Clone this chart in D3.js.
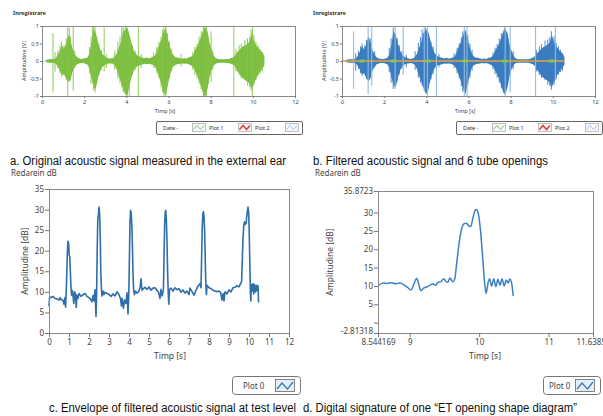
<!DOCTYPE html>
<html><head><meta charset="utf-8">
<script src="https://cdn.jsdelivr.net/npm/d3@7"></script>
<style>
body{margin:0;background:#fff;}
svg{display:block;}
.ax text{font-family:"Noto Sans","DejaVu Sans",sans-serif;fill:#444;}
.ax line{stroke:#777;}
.ax path{display:none;}
</style></head>
<body><svg id="c" width="603" height="416"></svg>
<script>
// ---------- DATA ----------
// Panels a & b: signal extent per 0.1 s bin (0.0 .. 10.5 s)
const binTimes = d3.range(0, 10.55, 0.1);
const aUpper = [0.01,0.01,0.04,0.05,0.06,0.05,0.08,0.18,0.30,0.45,0.35,0.50,0.75,0.60,0.35,0.20,0.12,0.08,0.06,0.07,0.08,0.10,0.20,0.55,0.90,0.80,0.55,0.35,0.20,0.15,0.10,0.08,0.07,0.08,0.12,0.22,0.40,0.55,0.85,0.90,0.95,0.75,0.50,0.30,0.20,0.15,0.12,0.10,0.08,0.10,0.08,0.09,0.12,0.15,0.30,0.45,0.60,0.80,0.95,0.70,0.45,0.25,0.15,0.10,0.10,0.08,0.07,0.08,0.07,0.10,0.12,0.15,0.30,0.40,0.55,0.70,0.90,0.95,0.85,0.50,0.30,0.15,0.08,0.06,0.05,0.05,0.05,0.06,0.06,0.08,0.10,0.15,0.25,0.30,0.38,0.42,0.45,0.50,0.55,0.80,0.60,0.45,0.38,0.30,0.25,0.15];
const aLower = [-0.01,-0.01,-0.04,-0.05,-0.05,-0.06,-0.08,-0.15,-0.28,-0.40,-0.38,-0.50,-0.60,-0.55,-0.30,-0.18,-0.10,-0.07,-0.06,-0.06,-0.08,-0.10,-0.22,-0.50,-0.75,-0.80,-0.50,-0.30,-0.18,-0.12,-0.09,-0.07,-0.07,-0.08,-0.12,-0.25,-0.45,-0.60,-0.80,-0.95,-1.00,-0.70,-0.45,-0.28,-0.18,-0.14,-0.12,-0.10,-0.08,-0.09,-0.08,-0.09,-0.11,-0.15,-0.28,-0.45,-0.65,-0.85,-1.00,-0.75,-0.45,-0.22,-0.14,-0.10,-0.09,-0.08,-0.07,-0.08,-0.07,-0.09,-0.12,-0.15,-0.28,-0.40,-0.55,-0.75,-0.95,-1.00,-0.80,-0.45,-0.25,-0.12,-0.07,-0.06,-0.05,-0.05,-0.05,-0.06,-0.06,-0.08,-0.10,-0.15,-0.28,-0.35,-0.45,-0.50,-0.55,-0.60,-0.65,-0.80,-0.65,-0.50,-0.40,-0.30,-0.22,-0.12];
// isolated peaks [time, top, bottom]
const aSpikes = [[0.52,0.80,-0.90],[1.22,1,-1],[1.30,0.95,-0.50],[1.48,1,-0.85],[2.40,1,-0.60],[2.52,1,-0.90],[2.95,0.95,-0.30],[3.85,1,-0.90],[4.02,1,-1],[4.14,0.70,-1],[4.57,1,-1],[5.78,1,-1],[5.88,1,-1],[7.66,1,-1],[7.80,1,-1],[8.02,0.85,-0.60],[9.10,1,-1],[9.98,1,-1],
  [0.62,0.25,-0.30],[0.75,0.30,-0.20],[0.85,0.45,-0.35],[0.92,0.55,-0.45],[1.05,0.45,-0.40],[1.15,0.65,-0.55],[1.35,0.70,-0.45],[1.55,0.30,-0.20],
  [2.25,0.40,-0.35],[2.33,0.70,-0.65],[2.45,1,-0.85],[2.60,0.70,-0.60],[2.70,0.50,-0.40],[2.82,0.30,-0.25],[3.05,0.20,-0.20],
  [3.45,0.30,-0.25],[3.60,0.55,-0.50],[3.70,0.70,-0.65],[3.78,0.95,-0.75],[3.95,1,-0.95],[4.08,0.85,-0.80],[4.20,0.60,-0.55],[4.30,0.45,-0.40],[4.42,0.30,-0.25],[4.70,0.20,-0.20],
  [5.30,0.25,-0.20],[5.45,0.40,-0.35],[5.55,0.55,-0.50],[5.65,0.70,-0.75],[5.72,0.90,-0.90],[5.95,0.80,-0.70],[6.05,0.55,-0.50],[6.15,0.35,-0.30],[6.60,0.20,-0.15],
  [7.15,0.25,-0.25],[7.25,0.40,-0.40],[7.35,0.50,-0.50],[7.45,0.70,-0.65],[7.55,0.85,-0.80],[7.72,1,-1],[7.88,0.70,-0.65],[7.95,0.45,-0.40],[8.10,0.30,-0.25],
  [9.20,0.35,-0.30],[9.35,0.45,-0.40],[9.45,0.50,-0.50],[9.62,0.60,-0.55],[9.75,0.65,-0.70],[9.85,0.70,-0.75],[9.92,0.90,-0.85],[10.05,0.75,-0.70],[10.15,0.55,-0.55],[10.25,0.45,-0.40],[10.35,0.35,-0.35],[10.45,0.25,-0.30]];
const bUpper = [0.01,0.01,0.04,0.05,0.05,0.05,0.07,0.15,0.28,0.42,0.33,0.48,0.70,0.55,0.30,0.18,0.10,0.07,0.06,0.06,0.07,0.09,0.18,0.50,0.85,0.75,0.50,0.30,0.18,0.13,0.09,0.07,0.06,0.07,0.10,0.20,0.38,0.50,0.80,0.85,0.90,0.70,0.45,0.28,0.18,0.13,0.11,0.09,0.07,0.09,0.07,0.08,0.10,0.13,0.28,0.42,0.55,0.75,0.90,0.65,0.40,0.22,0.13,0.09,0.09,0.07,0.06,0.07,0.06,0.09,0.10,0.14,0.28,0.38,0.50,0.65,0.85,0.90,0.80,0.45,0.28,0.13,0.07,0.05,0.05,0.05,0.05,0.05,0.05,0.07,0.09,0.14,0.22,0.28,0.35,0.40,0.42,0.48,0.52,0.75,0.55,0.42,0.35,0.28,0.22,0.12];
const bLower = [-0.01,-0.01,-0.04,-0.05,-0.05,-0.05,-0.07,-0.14,-0.26,-0.38,-0.35,-0.48,-0.58,-0.50,-0.28,-0.16,-0.09,-0.07,-0.06,-0.06,-0.07,-0.09,-0.20,-0.48,-0.70,-0.75,-0.48,-0.28,-0.16,-0.11,-0.08,-0.07,-0.06,-0.07,-0.11,-0.22,-0.42,-0.55,-0.75,-0.90,-0.95,-0.65,-0.42,-0.26,-0.16,-0.12,-0.11,-0.09,-0.07,-0.08,-0.07,-0.08,-0.10,-0.14,-0.26,-0.42,-0.60,-0.80,-0.95,-0.70,-0.42,-0.20,-0.12,-0.09,-0.08,-0.07,-0.06,-0.07,-0.06,-0.08,-0.11,-0.14,-0.26,-0.38,-0.50,-0.70,-0.90,-0.95,-0.75,-0.42,-0.22,-0.11,-0.06,-0.05,-0.05,-0.05,-0.05,-0.05,-0.05,-0.07,-0.09,-0.14,-0.26,-0.33,-0.42,-0.48,-0.52,-0.56,-0.62,-0.75,-0.60,-0.45,-0.36,-0.28,-0.20,-0.11];
const bSpikes = [[0.55,0.85,-0.80],[1.24,1,-0.95],[1.41,1,-0.70],[2.52,1,-0.80],[2.90,1,-0.40],[3.90,1,-0.85],[4.05,1,-1],[4.48,1,-1],[5.80,1,-1],[5.93,1,-1],[7.74,1,-1],[7.98,1,-0.90],[9.18,1,-1],[10.12,1,-0.55]];
const bTexture = [[0.65,0.22,-0.28],[0.78,0.30,-0.22],[0.88,0.42,-0.35],[0.95,0.50,-0.42],[1.08,0.45,-0.38],[1.16,0.60,-0.52],[1.33,0.65,-0.42],[1.55,0.28,-0.18],
  [2.24,0.38,-0.32],[2.33,0.65,-0.62],[2.43,0.95,-0.80],[2.62,0.65,-0.58],[2.72,0.45,-0.38],[2.84,0.28,-0.22],[3.05,0.18,-0.18],
  [3.47,0.28,-0.25],[3.62,0.52,-0.48],[3.72,0.68,-0.62],[3.80,0.90,-0.72],[3.97,0.95,-0.92],[4.10,0.80,-0.78],[4.22,0.55,-0.52],[4.32,0.42,-0.38],[4.60,0.20,-0.18],
  [5.32,0.22,-0.20],[5.46,0.38,-0.35],[5.56,0.52,-0.50],[5.66,0.68,-0.72],[5.73,0.85,-0.88],[5.97,0.75,-0.68],[6.07,0.50,-0.48],[6.17,0.32,-0.28],
  [7.16,0.24,-0.24],[7.26,0.38,-0.38],[7.36,0.48,-0.48],[7.46,0.65,-0.62],[7.56,0.80,-0.78],[7.70,0.95,-0.95],[7.86,0.68,-0.62],[7.94,0.42,-0.38],[8.12,0.28,-0.24],
  [9.22,0.32,-0.30],[9.36,0.42,-0.40],[9.46,0.48,-0.48],[9.63,0.58,-0.55],[9.76,0.62,-0.68],[9.86,0.68,-0.72],[9.93,0.85,-0.82],[10.06,0.70,-0.68],[10.16,0.52,-0.52],[10.26,0.42,-0.40],[10.36,0.32,-0.32],[10.46,0.22,-0.28]];
const bOpenings = [0.95, 2.45, 4.08, 5.83, 7.72, 9.95];

// Panel c: envelope (dB)
const cTime = [0.00,0.03,0.10,0.20,0.30,0.40,0.50,0.55,0.60,0.70,0.75,0.80,0.83,0.86,0.89,0.92,0.95,0.98,1.01,1.04,1.07,1.10,1.13,1.17,1.20,1.24,1.28,1.32,1.36,1.40,1.45,1.50,1.60,1.70,1.80,1.90,2.00,2.08,2.15,2.20,2.25,2.30,2.35,2.38,2.41,2.44,2.47,2.50,2.53,2.56,2.59,2.62,2.65,2.70,2.75,2.80,2.90,3.00,3.10,3.20,3.30,3.40,3.45,3.50,3.58,3.62,3.66,3.72,3.78,3.85,3.90,3.95,3.99,4.02,4.05,4.08,4.11,4.14,4.17,4.20,4.23,4.27,4.32,4.40,4.48,4.55,4.60,4.65,4.72,4.80,4.90,5.00,5.10,5.20,5.30,5.40,5.48,5.55,5.60,5.66,5.72,5.75,5.78,5.81,5.84,5.87,5.90,5.93,5.96,5.99,6.03,6.10,6.20,6.30,6.40,6.50,6.60,6.70,6.80,6.90,7.00,7.05,7.15,7.25,7.35,7.45,7.55,7.60,7.63,7.66,7.69,7.72,7.75,7.78,7.81,7.84,7.87,7.90,8.00,8.10,8.20,8.30,8.40,8.50,8.58,8.65,8.70,8.75,8.80,8.90,9.00,9.10,9.20,9.30,9.40,9.50,9.58,9.63,9.66,9.70,9.74,9.78,9.82,9.86,9.90,9.95,9.98,10.01,10.04,10.07,10.09,10.12,10.16,10.20,10.24,10.28,10.33,10.38,10.42,10.45,10.48];
const cDb = [6.5,8.8,8.6,8.9,8.4,8.3,8.0,8.6,8.2,7.9,7.0,8.6,6.3,9.8,14.5,20.0,22.3,21.8,19.0,18.5,14.5,11.0,9.2,10.3,9.0,7.2,10.0,9.5,6.2,9.2,8.4,9.6,8.9,9.3,9.6,8.9,8.6,8.2,7.6,9.1,7.8,10.5,4.0,9.5,20.0,28.0,28.5,30.6,29.0,24.0,15.0,10.8,9.0,10.2,9.3,9.9,9.6,9.4,8.9,9.5,9.0,10.0,9.7,9.3,8.3,6.6,8.4,6.0,8.0,7.2,9.8,4.6,9.5,18.0,27.0,29.8,29.2,26.5,21.5,14.5,10.5,9.3,10.2,9.7,10.0,11.0,13.2,10.4,10.8,11.1,10.6,11.2,10.4,10.9,11.0,10.4,9.8,8.4,10.6,9.0,10.5,18.0,26.0,29.4,29.8,27.2,22.0,15.0,10.0,7.0,10.6,10.9,10.2,11.0,10.5,10.8,9.9,10.5,9.7,10.2,9.3,10.9,10.1,9.2,10.4,11.4,12.0,11.0,18.0,25.5,28.8,29.5,28.2,25.0,18.5,12.0,9.3,11.6,11.0,10.8,10.4,10.2,10.0,10.2,9.8,8.0,9.6,7.8,10.0,9.5,10.5,10.0,11.0,11.1,11.5,11.2,12.0,12.5,17.0,23.0,26.2,27.0,26.4,26.8,29.0,30.6,29.5,25.0,17.0,10.0,7.8,11.8,10.2,12.0,9.5,11.8,10.0,11.6,10.3,11.5,7.4];
const cXTicks = [0,1,2,3,4,5,6,7,8,9,10,11,12];
const cYTicks = [0,5,10,15,20,25,30,35];

// Panel d: one opening (dB)
const dTime = [8.544169,8.57,8.62,8.68,8.74,8.80,8.86,8.92,8.97,9.02,9.07,9.10,9.13,9.16,9.20,9.25,9.30,9.34,9.37,9.41,9.45,9.49,9.52,9.55,9.58,9.62,9.65,9.67,9.70,9.73,9.76,9.79,9.82,9.85,9.88,9.91,9.94,9.96,9.99,10.02,10.05,10.08,10.10,10.13,10.15,10.18,10.21,10.24,10.27,10.30,10.33,10.36,10.39,10.42,10.44,10.47,10.49];
const dDb = [10.0,10.4,10.8,10.7,10.9,10.6,10.8,10.3,9.6,8.9,11.0,12.1,10.5,8.7,9.4,9.8,10.3,10.6,10.2,11.0,11.2,12.0,11.3,11.0,12.2,11.1,12.0,15.0,20.0,24.0,26.3,27.0,27.0,26.4,26.2,28.5,30.5,30.8,29.5,25.0,18.0,10.5,8.0,11.0,12.0,10.0,12.0,9.8,11.8,10.2,12.0,10.0,11.6,10.8,12.0,10.5,7.3];
const dXTicks = [8.544169,9,10,11,11.63854];
const dXLabels = ["8.544169","9","10","11","11.63854"];
const dYTicks = [35.8723,30,25,20,15,10,5,0,-2.81318];
const dYLabels = ["35.8723","30","25","20","15","10","5","","-2.81318"];

const abXTicks = [0,2,4,6,8,10,12];
const abYTicks = [1,0.5,0,-0.5,-1];
const captions = ["a. Original acoustic signal measured in the external ear","b. Filtered acoustic signal and 6 tube openings","c. Envelope of filtered acoustic signal at test level","d. Digital signature of one \u201cET opening shape diagram\u201d"];

// ---------- DRAW ----------
const svg = d3.select("#c");
const GREEN="#7bbd3f", BLUE="#3b7dc0", LBLUE="#93bde3", LINE="#2f6ea9";
const AX_FONT = 8;

function frame(x0,y0,x1,y1){
  svg.append("rect").attr("x",x0+0.5).attr("y",y0+0.5).attr("width",x1-x0).attr("height",y1-y0)
    .attr("fill","none").attr("stroke","#8a8a8a").attr("stroke-width",1);
}

function smallPanel(left, upper, lower, layers, isB){
  const x = d3.scaleLinear().domain([0,12]).range([left, left+253]);
  const y = d3.scaleLinear().domain([-1,1]).range([96,26]);
  const g = svg.append("g");
  const half = (x(0.1)-x(0))/2;
  g.append("path").datum(binTimes)
    .attr("d", d3.area().x(t=>x(t)+half).y0((t,i)=>y(lower[i])).y1((t,i)=>y(upper[i])))
    .attr("fill",layers[0].color);
  layers.forEach(L=>{
    g.append("g").selectAll("line").data(L.data).join("line")
      .attr("x1",d=>x(d[0])).attr("x2",d=>x(d[0])).attr("y1",d=>y(d[1])).attr("y2",d=>y(d[2]))
      .attr("stroke",L.stroke).attr("stroke-width",L.w);
  });
  if(isB){
    g.append("line").attr("x1",x(0)).attr("x2",x(10.55)).attr("y1",y(0)).attr("y2",y(0))
      .attr("stroke","#e6a33a").attr("stroke-width",1.6);
    g.selectAll("rect.op").data(bOpenings).join("rect")
      .attr("x",t=>x(t)-3).attr("y",y(0)-1.5).attr("width",6).attr("height",3).attr("rx",1.5)
      .attr("fill","#86c84a");
  }
  frame(left, 26, left+253, 96);
  const ya = svg.append("g").attr("class","ax").attr("transform",`translate(${left},0)`)
    .call(d3.axisLeft(y).tickValues(abYTicks).tickSize(2).tickPadding(1).tickFormat(d=>d===0?"0":String(d)));
  ya.selectAll("text").style("font-size","5.5px");
  const xa = svg.append("g").attr("class","ax").attr("transform",`translate(0,96)`)
    .call(d3.axisBottom(x).tickValues(abXTicks).tickSize(2).tickPadding(2));
  xa.selectAll("text").style("font-size","5.5px");
  svg.append("text").attr("x",left-29).attr("y",15).text("Inregistrare")
    .style("font-family","Noto Sans, sans-serif").style("font-size","5.5px").style("font-weight","bold").attr("fill","#333");
  svg.append("text").attr("transform",`translate(${left-16},61) rotate(-90)`).attr("text-anchor","middle")
    .text("Amplitudine [V]").style("font-family","Noto Sans, sans-serif").style("font-size","5.5px").attr("fill","#444");
  svg.append("text").attr("x",left+123).attr("y",113).attr("text-anchor","middle")
    .text("Timp [s]").style("font-family","Noto Sans, sans-serif").style("font-size","5.5px").attr("fill","#444");
  const lx = left+114;
  svg.append("rect").attr("x",lx+0.5).attr("y",121.5).attr("width",146).attr("height",13).attr("rx",1.5)
    .attr("fill","#fff").attr("stroke","#666");
  const ft = s=>s.style("font-family","Noto Sans, sans-serif").style("font-size","5.5px").attr("fill","#333");
  ft(svg.append("text").attr("x",lx+7).attr("y",130).text("Date -"));
  const icons = [[lx+36,"#8cc850","Plot 1"],[lx+82,"#e0413a","Plot 2"],[lx+129,"#a7c6e6",""]];
  icons.forEach(([ix,c,lab])=>{
    svg.append("rect").attr("x",ix+0.5).attr("y",123.5).attr("width",13).attr("height",8).attr("fill","#f3f6fa").attr("stroke","#999").attr("stroke-width",0.6);
    svg.append("path").attr("d",`M${ix+1.5},${129.5} L${ix+5},${125.5} L${ix+8.5},${129.5} L${ix+12},${125.5}`)
      .attr("fill","none").attr("stroke",c).attr("stroke-width",c==="#e0413a"?1.6:1);
    if(lab) ft(svg.append("text").attr("x",ix+17).attr("y",130).text(lab));
  });
}
smallPanel(42, aUpper, aLower, [{data:aSpikes, color:GREEN, stroke:"#84c447", w:0.9}], false);
smallPanel(342, bUpper, bLower, [{data:bTexture, color:BLUE, stroke:"#3a7cc0", w:0.9},{data:bSpikes, color:BLUE, stroke:LBLUE, w:1.1}], true);

const capFont = s=>s.style("font-family","'Liberation Sans Narrow','Liberation Sans',Arial,sans-serif").style("font-size","12.5px").attr("fill","#111");
capFont(svg.append("text").attr("x",10).attr("y",165).text(captions[0]).attr("textLength",276).attr("lengthAdjust","spacingAndGlyphs"));
capFont(svg.append("text").attr("x",313).attr("y",165).text(captions[1]).attr("textLength",235).attr("lengthAdjust","spacingAndGlyphs"));
capFont(svg.append("text").attr("x",49).attr("y",412).text(captions[2]).attr("textLength",247).attr("lengthAdjust","spacingAndGlyphs"));
capFont(svg.append("text").attr("x",303).attr("y",412).text(captions[3]).attr("textLength",274).attr("lengthAdjust","spacingAndGlyphs"));

function labelText(x,y,txt,size,anchor,rot){
  const t = svg.append("text").text(txt).style("font-family","Noto Sans, sans-serif").style("font-size",size+"px").attr("fill","#444").attr("text-anchor",anchor||"start");
  if(rot) t.attr("transform",`translate(${x},${y}) rotate(-90)`); else t.attr("x",x).attr("y",y);
  return t;
}
function legend0(x0,x1,tx){
  svg.append("rect").attr("x",x0+0.5).attr("y",376.5).attr("width",x1-x0).attr("height",18).attr("rx",3)
    .attr("fill","#fff").attr("stroke","#777");
  labelText(tx,389,"Plot 0",8);
  const ix = x1-25;
  svg.append("rect").attr("x",ix+0.5).attr("y",379.5).attr("width",19).attr("height",12).attr("fill","#e6eef8").attr("stroke","#666").attr("stroke-width",0.8);
  svg.append("path").attr("d",`M${ix+2},${389} L${ix+7},${383} L${ix+12.5},${389} L${ix+18},${382}`)
    .attr("fill","none").attr("stroke","#3a78b8").attr("stroke-width",1.3);
}

// Panel c
{
  const x = d3.scaleLinear().domain([0,12]).range([49,289]);
  const y = d3.scaleLinear().domain([0,35]).range([333,189]);
  labelText(11,176,"Redarein dB",8);
  svg.append("path").datum(cTime.map((t,i)=>[t,cDb[i]]))
    .attr("d",d3.line().x(d=>x(d[0])).y(d=>y(d[1])))
    .attr("fill","none").attr("stroke",LINE).attr("stroke-width",1.6).attr("stroke-linejoin","round");
  frame(49,189,289,333);
  const ya = svg.append("g").attr("class","ax").attr("transform","translate(49,0)")
    .call(d3.axisLeft(y).tickValues(cYTicks).tickSize(4).tickPadding(1));
  ya.selectAll("text").style("font-size",AX_FONT+"px");
  const xa = svg.append("g").attr("class","ax").attr("transform","translate(0,333)")
    .call(d3.axisBottom(x).tickValues(cXTicks).tickSize(4).tickPadding(2));
  xa.selectAll("text").style("font-size",AX_FONT+"px");
  labelText(28,261,"Amplitudine  [dB]",8.5,"middle",true);
  labelText(170,359,"Timp [s]",8.5,"middle");
  legend0(232,300,243);
}
// Panel d
{
  const x = d3.scaleLinear().domain([8.544169,11.63854]).range([378,593]);
  const y = d3.scaleLinear().domain([-2.81318,35.8723]).range([333,191]);
  labelText(315,176,"Redarein dB",8);
  svg.append("path").datum(dTime.map((t,i)=>[t,dDb[i]]))
    .attr("d",d3.line().curve(d3.curveMonotoneX).x(d=>x(d[0])).y(d=>y(d[1])))
    .attr("fill","none").attr("stroke","#3d80c2").attr("stroke-width",1.5).attr("stroke-linejoin","round");
  frame(378,191,593,333);
  const ya = svg.append("g").attr("class","ax").attr("transform","translate(378,0)")
    .call(d3.axisLeft(y).tickValues(dYTicks).tickSize(4).tickPadding(1).tickFormat((d,i)=>dYLabels[i]));
  ya.selectAll("text").style("font-size",AX_FONT+"px");
  ya.selectAll("text").filter((d,i)=>i===dYTicks.length-1).attr("dy","0.1em");
  const xa = svg.append("g").attr("class","ax").attr("transform","translate(0,333)")
    .call(d3.axisBottom(x).tickValues(dXTicks).tickSize(4).tickPadding(2).tickFormat((d,i)=>dXLabels[i]));
  xa.selectAll("text").style("font-size",AX_FONT+"px");
  labelText(333,262,"Amplitudine  [dB]",8.5,"middle",true);
  labelText(485,359,"Timp [s]",8.5,"middle");
  legend0(543,600,549);
}
</script></body></html>
